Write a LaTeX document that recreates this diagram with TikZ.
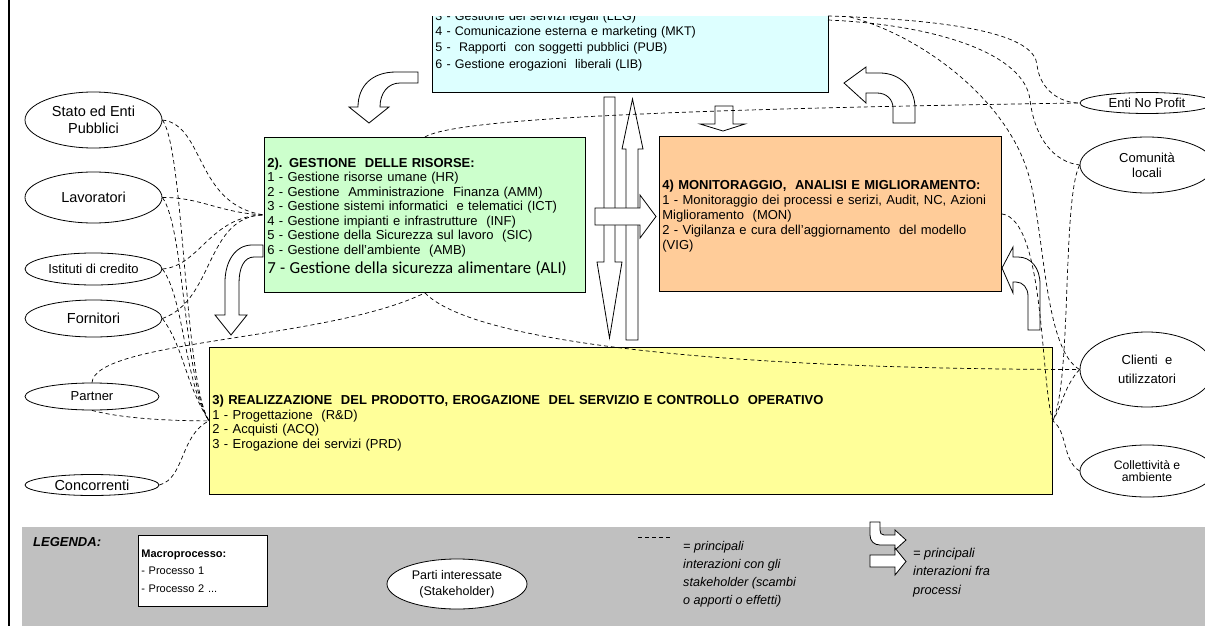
\documentclass[tikz,border=0pt]{standalone}
\usepackage{fontspec}
\setmainfont{Liberation Sans}
\newfontfamily\calibrifont{Carlito}
\usetikzlibrary{shapes.geometric}
\definecolor{dirfill}{HTML}{DDFFFF}
\definecolor{risfill}{HTML}{CCFFCC}
\definecolor{monfill}{HTML}{FFCC99}
\definecolor{realfill}{HTML}{FFFF99}
\definecolor{legfill}{HTML}{C0C0C0}
\tikzset{
  macro/.style={draw=black, line width=0.8pt, align=left, inner sep=3pt, anchor=north west, font=\fontsize{13}{14.6}\selectfont},
  stake/.style={ellipse, draw=black, line width=0.8pt, fill=white, inner sep=0pt, align=center},
  link/.style={line width=0.7pt, dash pattern=on 4pt off 3pt},
  flow/.style={draw=black, line width=0.8pt, fill=white}
}
\newcommand{\titlestrut}{\rule{0pt}{13.5pt}}

\begin{document}
\begin{tikzpicture}[x=1pt, y=-1pt]
\useasboundingbox (0,0) rectangle (1205,626);

% margine sinistro
\draw[line width=2pt] (9,0) -- (9,626);

% legenda (sfondo)
\fill[legfill] (22,527) rectangle (1205,626);

% 1. Macroprocessi
\begin{scope}
  \clip (0,17) rectangle (1205,626);
  \node[macro, fill=dirfill, anchor=south west, minimum width=396pt, text width=390pt, minimum height=102.5pt, font=\fontsize{12.5}{16.3}\selectfont] (boxDir) at (432,93)
    {3 - Gestione dei servizi legali (LEG)\\[-1.5pt]4 - Comunicazione esterna e marketing (MKT)\\5 -~ Rapporti~ con soggetti pubblici (PUB)\\6 - Gestione erogazioni~ liberali (LIB)};
\end{scope}

\node[macro, fill=risfill, minimum width=321pt, text width=315pt, minimum height=155pt, font=\fontsize{13}{14.5}\selectfont] (boxRis) at (264,137)
  {\titlestrut\textbf{2). GESTIONE~ DELLE RISORSE:}\\1 - Gestione risorse umane (HR)\\2 - Gestione~ Amministrazione~ Finanza (AMM)\\3 - Gestione sistemi informatici~ e telematici (ICT)\\4 - Gestione impianti e infrastrutture~ (INF)\\5 - Gestione della Sicurezza sul lavoro~ (SIC)\\6 - Gestione dell'ambiente~ (AMB)\\[3.5pt]{\calibrifont\fontsize{16.8}{19}\selectfont 7 - Gestione della sicurezza alimentare (ALI)}};

\node[macro, fill=monfill, minimum width=342pt, text width=336pt, minimum height=155pt, font=\fontsize{13}{15}\selectfont] (boxMon) at (659,136)
  {\titlestrut\textbf{4) MONITORAGGIO,~ ANALISI E MIGLIORAMENTO:}\\1 - Monitoraggio dei processi e serizi, Audit, NC, Azioni\\Miglioramento~ (MON)\\2 - Vigilanza e cura dell'aggiornamento~ del modello\\(VIG)};

\node[macro, fill=realfill, minimum width=843pt, text width=837pt, minimum height=147pt] (boxReal) at (209,347)
  {\titlestrut\textbf{3) REALIZZAZIONE~ DEL PRODOTTO, EROGAZIONE~ DEL SERVIZIO E CONTROLLO~ OPERATIVO}\\1 - Progettazione~ (R\&D)\\2 - Acquisti (ACQ)\\3 - Erogazione dei servizi (PRD)};

% 2. Parti interessate
\node[stake, minimum width=137pt, minimum height=56pt, font=\fontsize{14.5}{17.3}\selectfont] (stato) at (93.5,120) {Stato ed Enti\\Pubblici};
\node[stake, minimum width=137pt, minimum height=51pt, font=\fontsize{14.5}{17}\selectfont] (lav) at (93.5,197.5) {Lavoratori};
\node[stake, minimum width=137pt, minimum height=32pt, font=\fontsize{13}{15}\selectfont] (ist) at (93.5,269) {Istituti di credito};
\node[stake, minimum width=137pt, minimum height=37pt, font=\fontsize{14.5}{17}\selectfont] (forn) at (93.5,318.5) {Fornitori};
\node[stake, minimum width=134pt, minimum height=27pt, font=\fontsize{13}{15}\selectfont] (partner) at (92,396.5) {Partner};
\node[stake, minimum width=134pt, minimum height=21pt, font=\fontsize{14.5}{16}\selectfont] (conc) at (92,485) {Concorrenti};

\node[stake, minimum width=134pt, minimum height=21pt, font=\fontsize{13}{15}\selectfont] (enp) at (1147,103) {Enti No Profit};
\node[stake, minimum width=134pt, minimum height=56pt, font=\fontsize{13}{15}\selectfont] (comun) at (1147,165) {Comunità\\locali};
\node[stake, minimum width=134pt, minimum height=75pt, font=\fontsize{13}{19.5}\selectfont] (clienti) at (1147,369.5) {Clienti~ e\\utilizzatori};
\node[stake, minimum width=134pt, minimum height=52pt, font=\fontsize{12.2}{12.5}\selectfont] (collet) at (1147,471) {Collettività e\\ambiente};

% 3. Frecce fra processi
\draw[flow] (418,72) -- (396,72) .. controls (372,72) and (358,86) .. (358,107) -- (349,107) -- (369,123) -- (389,107) -- (380,107) .. controls (380,93) and (388,83) .. (400,83) -- (418,83) -- cycle;
\draw[flow] (263,245) -- (252,245) .. controls (235,245) and (225,262) .. (225,282) -- (225,315) -- (215,315) -- (231,335) -- (247,315) -- (239,315) -- (239,283) .. controls (239,268) and (244,257) .. (254,257) -- (263,257) -- cycle;
\draw[flow] (604,97) -- (615,97) -- (615,262) -- (622,262) -- (609.5,338) -- (597,262) -- (604,262) -- cycle;
\draw[flow] (626,340) -- (626,149) -- (622,149) -- (632.5,99) -- (643,149) -- (638,149) -- (638,340) -- cycle;
\draw[flow] (595,208) -- (640,208) -- (640,195) -- (656,216.5) -- (640,238) -- (640,225) -- (595,225) -- cycle;
\draw[flow] (715,106) -- (733,106) -- (733,124) -- (745,124) -- (723,131) -- (700,124) -- (715,124) -- cycle;
\draw[flow] (893,123) -- (893,108) .. controls (893,99) and (886,93) .. (877,93) -- (866,93) -- (866,103) -- (844,83) -- (866,67) -- (866,73) -- (880,73) .. controls (900,73) and (915,88) .. (915,108) -- (915,123) -- cycle;
\draw[flow] (1028,330) -- (1028,296) .. controls (1028,288) and (1023,282) .. (1016,282) -- (1013,282) -- (1013,293) -- (1002,268) -- (1013,247) -- (1013,257) -- (1018,257) .. controls (1031,257) and (1040,268) .. (1040,284) -- (1040,330) -- cycle;

% 4. Interazioni con gli stakeholder
\draw[link] (stato.east) .. controls (205,125) and (195,205) .. (boxRis.west);
\draw[link] (lav.east) .. controls (200,197) and (220,213) .. (boxRis.west);
\draw[link] (ist.east) .. controls (200,266) and (210,216) .. (boxRis.west);
\draw[link] (forn.east) .. controls (215,300) and (205,216) .. (boxRis.west);
\foreach \s in {stato,lav,ist,forn}
  \draw[link] (\s.east) .. controls +(22,30) and +(-25,-40) .. (boxReal.west);
\draw[link] (partner.south) .. controls +(30,8) and +(-40,0) .. (boxReal.west);
\draw[link] (conc.east) .. controls (185,478) and (180,435) .. (boxReal.west);
\draw[link] (partner.north) .. controls (95,340) and (330,340) .. (boxRis.south);
\draw[link] (boxRis.south) .. controls (470,340) and (700,369) .. (clienti.west);
\draw[link] (boxRis.north) .. controls (450,122) and (600,110) .. (enp.west);

\coordinate (dirA) at (828,16);
\coordinate (dirB) at (828,20);
\coordinate (dirC) at (850,17);
\draw[link] (dirA) .. controls (960,20) and (1035,35) .. (1037,65) .. controls (1040,90) and (1060,103) .. (enp.west);
\draw[link] (dirB) .. controls (940,25) and (1025,55) .. (1030,100) .. controls (1035,140) and (1055,162) .. (comun.west);
\draw[link] (dirC) .. controls (920,35) and (1010,100) .. (1030,180) .. controls (1045,240) and (1045,350) .. (clienti.west);
\draw[link] (boxMon.east) .. controls (1045,220) and (1040,380) .. (boxReal.east);
\draw[link] (comun.west) .. controls (1062,200) and (1072,380) .. (boxReal.east);
\draw[link] (clienti.west) .. controls (1065,385) and (1062,405) .. (boxReal.east);
\draw[link] (collet.west) .. controls (1062,460) and (1068,432) .. (boxReal.east);

% 5. Legenda
\node[anchor=west, inner sep=0pt, font=\bfseries\itshape\fontsize{13}{15}\selectfont] (legTitle) at (33,542) {LEGENDA:};
\node[draw=black, line width=0.8pt, fill=white, anchor=north west, minimum width=129pt, minimum height=71pt, text width=123pt, inner sep=3pt, align=left, font=\fontsize{11}{17.5}\selectfont] (legBox) at (138,535)
  {\textbf{Macroprocesso:}\\- Processo 1\\- Processo 2 ...};
\node[stake, minimum width=140pt, minimum height=50pt, font=\fontsize{12.5}{16}\selectfont] (legStake) at (457,584) {Parti interessate\\(Stakeholder)};

\coordinate (legDashA) at (638,537);
\coordinate (legDashB) at (672,537);
\draw[link] (legDashA) -- (legDashB);
\node[anchor=north west, inner sep=0pt, align=left, font=\itshape\fontsize{12.6}{18}\selectfont] (legLink) at (683,541)
  {= principali\\interazioni con gli\\stakeholder (scambi\\o apporti o effetti)};

\draw[flow] (870,522) -- (870,535) .. controls (870,541) and (874,545) .. (880,545) -- (895,545) -- (895,550) -- (906,540) -- (895,530) -- (895,535) -- (884,535) .. controls (881,535) and (880,533) .. (880,530) -- (880,522) -- cycle;
\draw[flow] (870,555) -- (895,555) -- (895,548) -- (906,561.5) -- (895,575) -- (895,567) -- (870,567) -- cycle;
\node[anchor=north west, inner sep=0pt, align=left, font=\itshape\fontsize{12.8}{18.5}\selectfont] (legFlow) at (913,548)
  {= principali\\interazioni fra\\processi};

\end{tikzpicture}
\end{document}
